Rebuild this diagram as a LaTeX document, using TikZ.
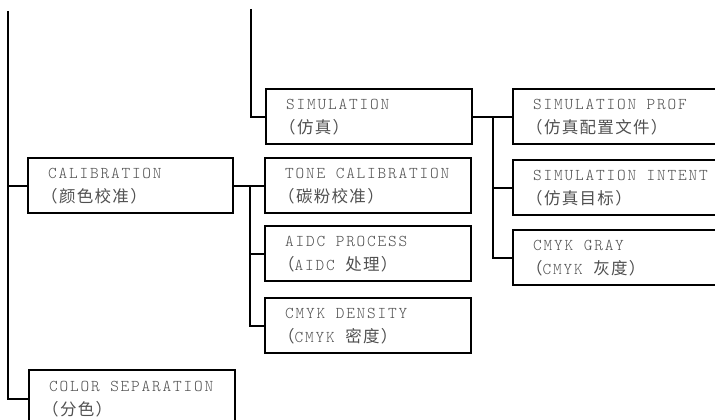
\documentclass[tikz,border=0pt]{standalone}
\usepackage{fontspec}
\setmonofont{lmmonolt10-regular}[Extension=.otf, LetterSpace=11]
\newfontfamily\cjk{Noto Sans CJK SC}[LetterSpace=8]
\definecolor{textgray}{RGB}{80,80,80}
\newcommand\myboxfont{\fontsize{16.5pt}{24pt}\selectfont\ttfamily\spaceskip 10.5pt\relax}
\newcommand\lead{\hspace*{-7pt}}
\begin{document}
\begin{tikzpicture}[x=1pt,y=-1pt,
  box/.style={draw=black, line width=2.4pt, rectangle, anchor=north west,
    minimum height=55pt, inner xsep=20pt, inner ysep=0pt, text width=#1,
    align=flush left, text=textgray, font=\myboxfont},
  link/.style={draw=black, line width=2.4pt}]
\useasboundingbox (0,0) rectangle (715,420);
\clip (0,0) rectangle (715,420);
\coordinate (topL) at (8,11);
\coordinate (topM) at (251,9);
\node[box=166pt] (sim) at (265,88) {SIMULATION\\\lead{\cjk （仿真）}};
\node[box=165pt] (calib) at (27,157) {CALIBRATION\\\lead{\cjk （颜色校准）}};
\node[box=166pt] (tone) at (264,157) {TONE CALIBRATION\\\lead{\cjk （碳粉校准）}};
\node[box=166pt] (aidc) at (264,225) {AIDC PROCESS\\\lead{\cjk （}AIDC {\cjk 处理）}};
\node[box=166pt] (cmykd) at (264,297) {CMYK DENSITY\\\lead{\cjk （}CMYK {\cjk 密度）}};
\node[box=166pt, minimum height=57pt] (colsep) at (28,369) {COLOR SEPARATION\\\lead{\cjk （分色）}};
\node[box=200pt] (simprof) at (512,88) {SIMULATION PROF\\\lead{\cjk （仿真配置文件）}};
\node[box=200pt] (simint) at (512,159) {SIMULATION INTENT\\\lead{\cjk （仿真目标）}};
\node[box=200pt] (cmykg) at (512,229) {CMYK GRAY\\\lead{\cjk （}CMYK {\cjk 灰度）}};
% trunks
\draw[link] (topL) |- (colsep.west);
\draw[link] (topL |- calib.west) -- (calib.west);
\draw[link] (topM) |- (sim.west);
% calibration branch
\draw[link] (calib.east) -- (tone.west);
\coordinate (cv) at (250,0);
\draw[link] (cv |- tone.west) |- (cmykd.west);
\draw[link] (cv |- aidc.west) -- (aidc.west);
% simulation branch
\draw[link] (sim.east) -- (simprof.west);
\coordinate (sv) at (493,0);
\draw[link] (sv |- simprof.west) |- (cmykg.west);
\draw[link] (sv |- simint.west) -- (simint.west);
\end{tikzpicture}
\end{document}
